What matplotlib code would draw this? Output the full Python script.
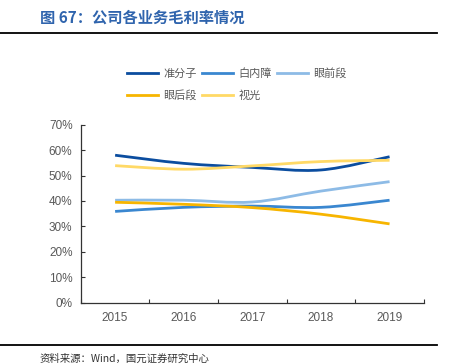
import numpy as np
import matplotlib
matplotlib.use("Agg")
import matplotlib.pyplot as plt
from matplotlib.path import Path
from matplotlib.patches import PathPatch
from matplotlib.lines import Line2D

plt.rcParams['font.family'] = ['Liberation Sans', 'Noto Sans CJK SC', 'DejaVu Sans']

years = [2015, 2016, 2017, 2018, 2019]
series_names = ['准分子', '白内障', '眼前段', '眼后段', '视光']
zhunfenzi = [58.0, 54.8, 53.2, 52.2, 57.4]
baineizhang = [35.9, 37.5, 38.0, 37.5, 40.3]
yanqianduan = [40.3, 40.3, 39.6, 43.9, 47.6]
yanhouduan = [39.5, 38.7, 37.4, 34.8, 31.0]
shiguang = [53.9, 52.5, 53.8, 55.5, 56.0]
series_values = [zhunfenzi, baineizhang, yanqianduan, yanhouduan, shiguang]
colors = ['#0b4d9f', '#3a87d0', '#8dbbe6', '#f7b500', '#ffd966']

GRAY = '#595959'


def smooth_path(x, y):
    # Bezier segments through the data points (Excel-style smoothed line)
    x = np.asarray(x, float)
    y = np.asarray(y, float)
    n = len(x)
    verts = [(x[0], y[0])]
    codes = [Path.MOVETO]
    for i in range(n - 1):
        x0, y0 = (x[i - 1], y[i - 1]) if i > 0 else (x[i], y[i])
        x3, y3 = (x[i + 2], y[i + 2]) if i + 2 < n else (x[i + 1], y[i + 1])
        c1 = (x[i] + (x[i + 1] - x0) / 6, y[i] + (y[i + 1] - y0) / 6)
        c2 = (x[i + 1] - (x3 - x[i]) / 6, y[i + 1] - (y3 - y[i]) / 6)
        verts += [c1, c2, (x[i + 1], y[i + 1])]
        codes += [Path.CURVE4] * 3
    return Path(verts, codes)


fig = plt.figure(figsize=(4.49, 3.64), dpi=100)
ax = fig.add_axes([0.180, 0.1684, 0.764, 0.489])

for vals, c in zip(series_values, colors):
    ax.add_patch(PathPatch(smooth_path(years, vals), facecolor='none',
                           edgecolor=c, linewidth=2.0, capstyle='butt'))

ax.set_xlim(2014.5, 2019.5)
ax.set_ylim(0, 70)
ax.set_yticks(np.arange(0, 71, 10))
ax.set_yticklabels([f'{v}%' for v in range(0, 71, 10)])
ax.set_xticks(np.arange(2014.5, 2020, 1))
ax.set_xticklabels([])
ax.set_xticks(years, minor=True)
ax.set_xticklabels([str(y) for y in years], minor=True)
ax.tick_params(axis='x', which='major', direction='in', length=3, color='#333333')
ax.tick_params(axis='x', which='minor', length=0, pad=7, labelsize=8.5, labelcolor=GRAY)
ax.tick_params(axis='y', direction='in', length=3, pad=6, color='#333333',
               labelsize=8.5, labelcolor=GRAY)
for s in ['top', 'right']:
    ax.spines[s].set_visible(False)
for s in ['left', 'bottom']:
    ax.spines[s].set_color('#333333')
    ax.spines[s].set_linewidth(0.9)

# legend, row-major order like the original
handles = [Line2D([], [], color=c, linewidth=2.0) for c in colors]
order = [0, 3, 1, 4, 2]
fig.legend([handles[i] for i in order], [series_names[i] for i in order],
           ncol=3, loc='upper left', bbox_to_anchor=(126.5 / 449, 1 - 68 / 364),
           frameon=False, borderpad=0, borderaxespad=0, handlelength=2.85,
           handletextpad=0.45, columnspacing=0.45, labelspacing=1.0,
           prop={'family': ['Noto Sans CJK SC'], 'size': 8}, labelcolor=GRAY)

# header / footer
fig.text(40 / 449, 1 - 18 / 364, '图 67：公司各业务毛利率情况', fontsize=11,
         fontweight='bold', color='#2f64ad', va='center', ha='left',
         family=['Noto Sans CJK SC', 'DejaVu Sans'])
fig.add_artist(Line2D([0, 437 / 449], [1 - 32.5 / 364] * 2, color='black', linewidth=1.3))
fig.add_artist(Line2D([0, 437 / 449], [1 - 345 / 364] * 2, color='black', linewidth=1.3))
fig.text(40 / 449, 1 - 359 / 364, '资料来源：Wind，国元证券研究中心', fontsize=7.5,
         color='#333333', va='center', ha='left',
         family=['Noto Sans CJK SC', 'DejaVu Sans'])

fig.savefig('out.png', dpi=100)
